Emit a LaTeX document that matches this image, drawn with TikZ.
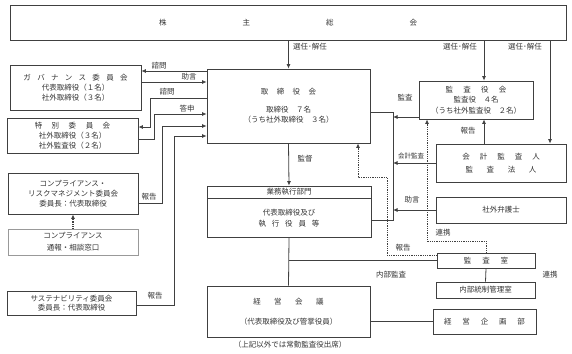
\documentclass[tikz,border=0pt]{standalone}
\usepackage{fontspec}
\setmainfont{Noto Sans CJK JP}
\usetikzlibrary{arrows.meta,positioning}
\newcommand{\jsp}[1]{\hspace{#1pt}}

\begin{document}
\begin{tikzpicture}[x=1pt,y=-1pt,>={Latex[length=4.5pt,width=4pt]},
    every node/.style={font=\fontsize{7.5}{10}\selectfont,text=black!80},
    box/.style={draw=black!75,line width=0.8pt,align=center,inner sep=0pt},
    wire/.style={draw=black!75,line width=0.8pt},
    dots/.style={wire,densely dotted},
    tag/.style={inner sep=0pt}]
  \useasboundingbox (0,0) rectangle (572,353);

  % boxes
  \node[box,minimum width=556,minimum height=35] (shm) at (288,22.5) {株\jsp{76}主\jsp{76}総\jsp{76}会};
  \node[box,minimum width=131,minimum height=45] (gov) at (75.5,87.5) {ガ\jsp{6.3}バ\jsp{6.3}ナ\jsp{6.3}ン\jsp{6.3}ス\jsp{6.3}委\jsp{6.3}員\jsp{6.3}会\\代表取締役（１名）\\社外取締役（３名）};
  \node[box,minimum width=131,minimum height=35] (spc) at (72.5,135.5) {特\jsp{9.5}別\jsp{9.5}委\jsp{9.5}員\jsp{9.5}会\\社外取締役（３名）\\社外監査役（２名）};
  \node[box,minimum width=130,minimum height=41] (crm) at (73,193.5) {コンプライアンス・\\リスクマネジメント委員会\\委員長：代表取締役};
  \node[box,draw=black!40,minimum width=130,minimum height=26,font=\fontsize{7.5}{12}\selectfont] (hot) at (73,242) {コンプライアンス\\通報・相談窓口};
  \node[box,minimum width=129,minimum height=24,font=\fontsize{7.5}{9.5}\selectfont] (sus) at (71.5,303) {サステナビリティ委員会\\委員長：代表取締役};
  \node[box,minimum width=163,minimum height=74] (bod) at (288.5,106) {取\jsp{8.5}締\jsp{8.5}役\jsp{8.5}会\\[8pt]取締役　７名\\（うち社外取締役　３名）};
  \node[box,minimum width=164,minimum height=12] (exehd) at (289,192) {業務執行部門};
  \node[box,minimum width=164,minimum height=39,below=0pt of exehd,font=\fontsize{7.5}{11}\selectfont] (exe) {代表取締役及び\\執\jsp{5.8}行\jsp{5.8}役\jsp{5.8}員\jsp{5.8}等};
  \node[box,minimum width=163,minimum height=51] (mgt) at (288.5,311.5) {経\jsp{13.5}営\jsp{13.5}会\jsp{13.5}議\\[10pt]（代表取締役及び管掌役員）};
  \node[box,minimum width=114,minimum height=38,font=\fontsize{7.5}{10.5}\selectfont] (kan) at (476,100) {監\jsp{10.3}査\jsp{10.3}役\jsp{10.3}会\\監査役　４名\\（うち社外監査役　２名）};
  \node[box,minimum width=130,minimum height=38,font=\fontsize{7.5}{13}\selectfont] (aud) at (501,163) {会\jsp{10}計\jsp{10}監\jsp{10}査\jsp{10}人\\監\jsp{13.6}査\jsp{13.6}法\jsp{13.6}人};
  \node[box,minimum width=130,minimum height=26] (law) at (501,210) {社外弁護士};
  \node[box,minimum width=98,minimum height=15] (iad) at (486,260.5) {監\jsp{10.8}査\jsp{10.8}室};
  \node[box,minimum width=99,minimum height=16] (icm) at (485.5,290) {内部統制管理室};
  \node[box,minimum width=103,minimum height=25] (cpd) at (484.5,321.5) {経\jsp{10.8}営\jsp{10.8}企\jsp{10.8}画\jsp{10.8}部};
  \node[tag] (note) at (290,345) {（上記以外では常勤監査役出席）};

  % rail on the right of the board
  \coordinate (rt) at (393,112);
  \coordinate (rb) at (393,220);

  % connectors
  \draw[wire,->] (bod.north |- shm.south) -- (bod.north);
  \draw[wire,->] (shm.south -| 484,0) -- (kan.north -| 484,0);
  \draw[wire,->] (shm.south -| 550,0) -- (aud.north -| 550,0);
  \draw[wire,->] (bod.west |- 0,71) -- (gov.east |- 0,71);
  \draw[wire,->] (gov.east |- 0,82) -- (bod.west |- 0,82);
  \draw[wire,->] (bod.west |- 0,98) -| (150,127) -- (spc.east |- 0,127);
  \draw[wire,->] (spc.east |- 0,139) -| (154,114) -- (bod.west |- 0,114);
  \draw[wire,->] (crm.east |- 0,203) -| (162,126) -- (bod.west |- 0,126);
  \draw[wire,->] (sus.east |- 0,305) -| (174,136) -- (bod.west |- 0,136);
  \draw[wire,->] (bod.south) -- (exehd.north);
  \draw[wire] (bod.east |- rt) -- (rt) -- (rb) -- (exe.east |- rb);
  \draw[wire,->] (kan.west |- 0,117) -- (rt |- 0,117);
  \draw[wire,->] (aud.west) -- (rt |- aud.west);
  \draw[wire,->] (law.west) -- (rt |- law.west);
  \draw[wire,->] (aud.north -| 484,0) -- (kan.south -| 484,0);
  \draw[dots,->] (iad.west |- 0,255) -| (387,177) -| (bod.south -| 358,0);
  \draw[dots,->] (iad.north) |- (427,241) -- (kan.south -| 427,0);
  \draw[wire] (iad.west) -- (exe.south |- iad.west);
  \draw[wire] (exe.south) -- (mgt.north);
  \draw[wire] (iad.south) -- (icm.north);
  \draw[wire] (mgt.east |- cpd.west) -- (cpd.west);
  \draw[dots,->,line width=1.4pt] (hot.north) -- (crm.south);

  % labels
  \node[tag] at (310,47) {選任･解任};
  \node[tag] at (460,47) {選任･解任};
  \node[tag] at (525,47) {選任･解任};
  \node[tag] at (159,66) {諮問};
  \node[tag] at (189,77) {助言};
  \node[tag] at (167,92) {諮問};
  \node[tag] at (187,109) {答申};
  \node[tag] at (149,197) {報告};
  \node[tag] at (155,296) {報告};
  \node[tag] at (305,159) {監督};
  \node[tag] at (405,98) {監査};
  \node[tag,font=\fontsize{6.5}{8}\selectfont] at (411,156) {会計監査};
  \node[tag] at (412,200) {助言};
  \node[tag] at (468,131) {報告};
  \node[tag] at (403,248) {報告};
  \node[tag] at (443,233) {連携};
  \node[tag] at (391,275) {内部監査};
  \node[tag] at (550,275) {連携};
\end{tikzpicture}
\end{document}
